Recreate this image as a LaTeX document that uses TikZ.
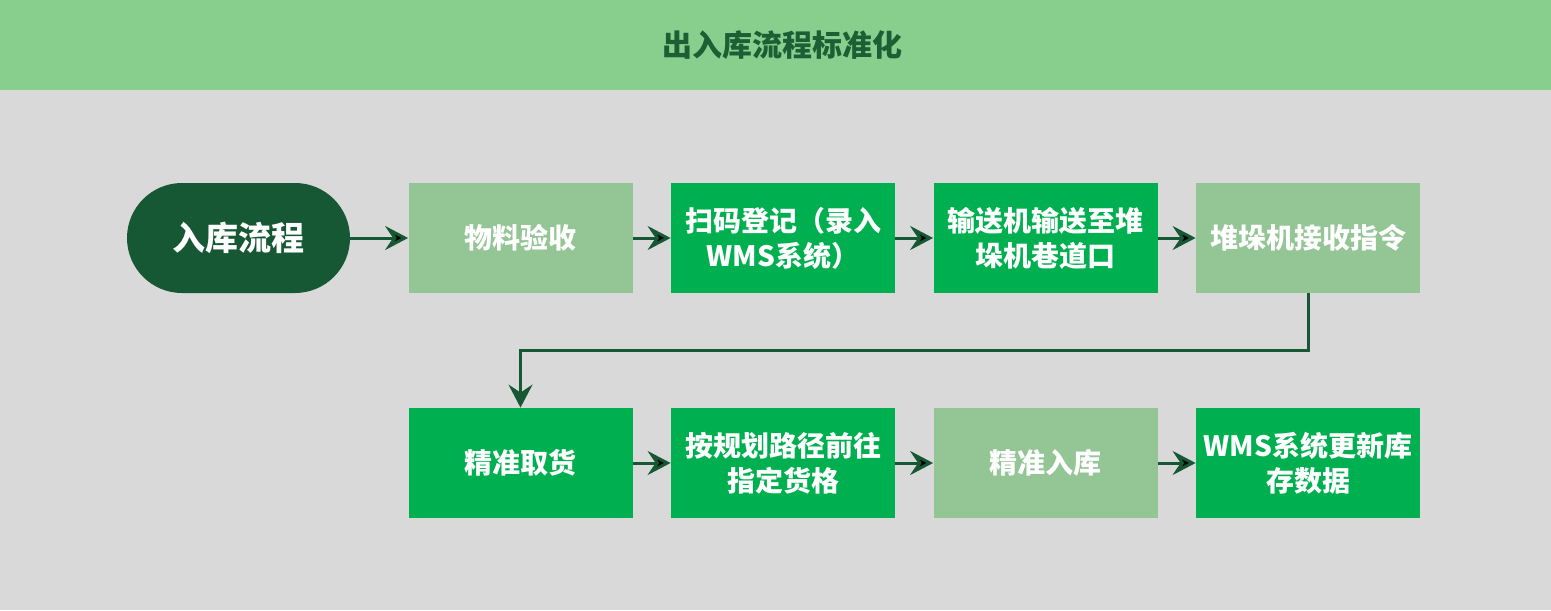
\documentclass[tikz,border=0pt]{standalone}
\usepackage{fontspec}
\newfontfamily\cjk{Noto Sans CJK SC}
\usetikzlibrary{positioning,arrows.meta}
\definecolor{bggray}{RGB}{217,217,217}
\definecolor{headgreen}{RGB}{136,207,141}
\definecolor{darkgreen}{RGB}{22,88,52}
\definecolor{palegreen}{RGB}{147,197,149}
\definecolor{brightgreen}{RGB}{0,176,80}
\definecolor{titlegreen}{RGB}{29,94,53}

\begin{document}
\begin{tikzpicture}[x=0.5pt,y=-0.5pt,node distance=131.25pt,on grid,
  box/.style={rectangle,minimum width=112pt,minimum height=55pt,inner sep=0pt,
    align=center,text=white,font=\cjk\bfseries\fontsize{14}{17.5}\selectfont},
  pale/.style={box,fill=palegreen},
  bright/.style={box,fill=brightgreen},
  start/.style={rectangle,rounded corners=27.5pt,fill=darkgreen,minimum width=111.5pt,
    minimum height=55pt,text=white,font=\cjk\bfseries\fontsize{16.5}{20}\selectfont},
  flow/.style={-{Stealth[length=11.5pt,width=12pt,inset=4pt]},line width=1.5pt,draw=darkgreen}]
\fill[bggray] (0,0) rectangle (1551,610);
\fill[headgreen] (0,0) rectangle (1551,90);
\node[text=titlegreen,font=\cjk\bfseries\fontsize{15}{18}\selectfont] (title) at (782,45) {出入库流程标准化};

\node[start] (inbound) at (238.5,238) {入库流程};
\node[pale] (check) [right=141pt of inbound] {物料验收};
\node[bright] (scan) [right=of check] {扫码登记（录入\\WMS系统）};
\node[bright] (convey) [right=of scan] {输送机输送至堆\\垛机巷道口};
\node[pale] (receive) [right=of convey] {堆垛机接收指令};
\node[bright] (pick) [below=112.5pt of check] {精准取货};
\node[bright] (travel) [right=of pick] {按规划路径前往\\指定货格};
\node[pale] (store) [right=of travel] {精准入库};
\node[bright] (update) [right=of store] {WMS系统更新库\\存数据};

\path[flow]
  (inbound) edge (check)
  (check) edge (scan)
  (scan) edge (convey)
  (convey) edge (receive)
  (pick) edge (travel)
  (travel) edge (store)
  (store) edge (update)
  ;
\draw[flow] (receive.south) -- ++(0pt,-28.5pt) -| (pick.north);
\end{tikzpicture}
\end{document}
